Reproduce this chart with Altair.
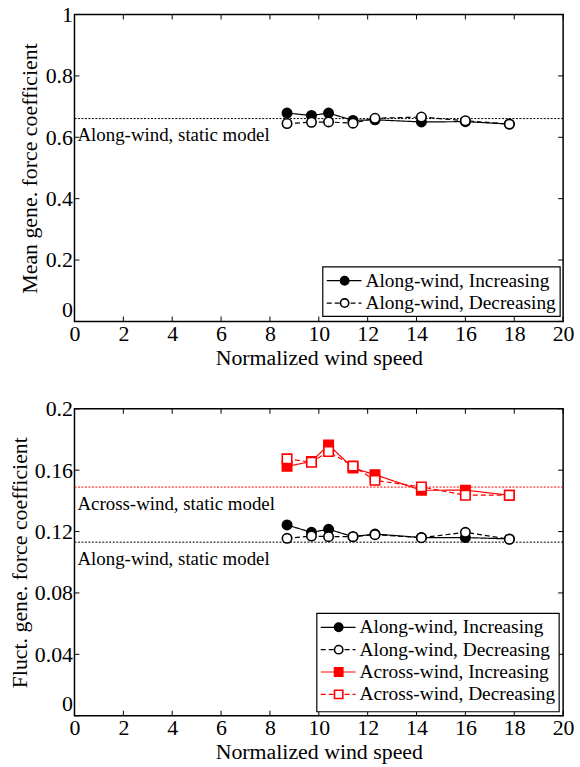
import altair as alt
import pandas as pd

# ---------------- data ----------------
speed = [8.7, 9.7, 10.4, 11.4, 12.3, 14.2, 16.0, 17.8]

mean_along_inc = [0.679, 0.671, 0.679, 0.655, 0.657, 0.650, 0.651, 0.643]
mean_along_dec = [0.645, 0.649, 0.650, 0.646, 0.662, 0.666, 0.654, 0.643]
mean_static_along = 0.661

fl_along_inc = [0.1243, 0.1195, 0.1215, 0.1167, 0.1184, 0.1161, 0.1161, 0.1152]
fl_along_dec = [0.1156, 0.1171, 0.1167, 0.1167, 0.1180, 0.1160, 0.1195, 0.1150]
fl_across_inc = [0.1625, 0.1657, 0.1765, 0.1614, 0.1571, 0.1469, 0.1470, 0.1437]
fl_across_dec = [0.1674, 0.1652, 0.1722, 0.1627, 0.1534, 0.1491, 0.1437, 0.1437]
fl_static_along = 0.1131
fl_static_across = 0.149

series_names = ["Along-wind, Increasing", "Along-wind, Decreasing",
                "Across-wind, Increasing", "Across-wind, Decreasing"]
series_color = ["#000000", "#000000", "#ff0000", "#ff0000"]
series_fill = ["#000000", "#ffffff", "#ff0000", "#ffffff"]
series_shape = ["circle", "circle", "square", "square"]
series_dash = ["solid", "dashed", "solid", "dashed"]

x_ticks = [0, 2, 4, 6, 8, 10, 12, 14, 16, 18, 20]
top_y_ticks = [0, 0.2, 0.4, 0.6, 0.8, 1]
bot_y_ticks = [0, 0.04, 0.08, 0.12, 0.16, 0.2]

FONT = "'Liberation Serif', 'Times New Roman', 'DejaVu Serif', serif"
W, H = 492, 309


def long_frame(values_by_series):
    rows = []
    for i, vals in enumerate(values_by_series):
        if vals is None:
            continue
        for xv, yv in zip(speed, vals):
            rows.append({"x": xv, "y": yv, "series": series_names[i],
                         "color": series_color[i], "fill": series_fill[i],
                         "shape": series_shape[i], "dash": series_dash[i]})
    return pd.DataFrame(rows)


def panel(values_by_series, ydom, yticks, ytitle, title_x, statics, legend_box):
    df = long_frame(values_by_series)
    xs = alt.Scale(domain=[0, 20], nice=False, zero=False)
    ys = alt.Scale(domain=ydom, nice=False, zero=False)
    dash_scale = alt.Scale(domain=["solid", "dashed"], range=[[1, 0], [5, 3]])

    base = alt.Chart(df)
    lines = base.mark_line(strokeWidth=1.2).encode(
        x=alt.X("x:Q", scale=xs,
                axis=alt.Axis(values=x_ticks, title="Normalized wind speed", format="~g",
                              labelPadding=2, titlePadding=3)),
        y=alt.Y("y:Q", scale=ys,
                axis=alt.Axis(values=yticks, title=ytitle, format="~g", titleX=title_x,
                              labelPadding=2,
                              labelBaseline={"condition": {"test": "datum.value == 0",
                                                           "value": "bottom"},
                                             "value": "middle"})),
        color=alt.Color("color:N", scale=None),
        strokeDash=alt.StrokeDash("dash:N", scale=dash_scale, legend=None),
        detail="series:N",
    )
    points = base.mark_point(size=90, strokeWidth=1.6, opacity=1, filled=False).encode(
        x=alt.X("x:Q", scale=xs),
        y=alt.Y("y:Q", scale=ys),
        stroke=alt.Stroke("color:N", scale=None),
        fill=alt.Fill("fill:N", scale=None),
        shape=alt.Shape("shape:N", scale=None),
    )

    sdf = pd.DataFrame(statics)
    static_rules = alt.Chart(sdf).mark_rule(strokeDash=[2, 1.5], strokeWidth=1).encode(
        y=alt.Y("y:Q", scale=ys),
        color=alt.Color("color:N", scale=None),
    )
    static_text = alt.Chart(sdf).mark_text(align="left", baseline="top", font=FONT,
                                           fontSize=19, dx=3, dy=8, color="black").encode(
        x=alt.value(0),
        y=alt.Y("y:Q", scale=ys),
        text="label:N",
    )

    # inward ticks on all four sides
    xt = pd.DataFrame({"t": x_ticks})
    yt = pd.DataFrame({"t": yticks})
    tick_style = dict(color="black", strokeWidth=1)
    tb = alt.Chart(xt).mark_rule(**tick_style).encode(
        x=alt.X("t:Q", scale=xs), y=alt.value(H), y2=alt.value(H - 5))
    tt = alt.Chart(xt).mark_rule(**tick_style).encode(
        x=alt.X("t:Q", scale=xs), y=alt.value(0), y2=alt.value(5))
    tl = alt.Chart(yt).mark_rule(**tick_style).encode(
        y=alt.Y("t:Q", scale=ys), x=alt.value(0), x2=alt.value(5))
    tr = alt.Chart(yt).mark_rule(**tick_style).encode(
        y=alt.Y("t:Q", scale=ys), x=alt.value(W - 5), x2=alt.value(W))

    # legend
    lx0, ly0, lx1, ly1, n = legend_box
    ldf = pd.DataFrame({
        "label": series_names[:n], "row": list(range(n)),
        "color": series_color[:n], "fill": series_fill[:n],
        "shape": series_shape[:n], "dash": series_dash[:n],
    })
    lbase = alt.Chart(ldf).transform_calculate(yy=f"{ly0} + 14 + datum.row * 22.5")
    box = alt.Chart(pd.DataFrame({"a": [0]})).mark_rect(
        fill="white", stroke="black", strokeWidth=1.2).encode(
        x=alt.value(lx0), x2=alt.value(lx1), y=alt.value(ly0), y2=alt.value(ly1))
    lline = lbase.mark_rule(strokeWidth=1.2).encode(
        x=alt.value(lx0 + 4), x2=alt.value(lx0 + 39),
        y=alt.Y("yy:Q", scale=None),
        color=alt.Color("color:N", scale=None),
        strokeDash=alt.StrokeDash("dash:N", scale=dash_scale, legend=None),
    )
    lpt = lbase.mark_point(size=70, strokeWidth=1.6, opacity=1).encode(
        x=alt.value(lx0 + 22),
        y=alt.Y("yy:Q", scale=None),
        stroke=alt.Stroke("color:N", scale=None),
        fill=alt.Fill("fill:N", scale=None),
        shape=alt.Shape("shape:N", scale=None),
    )
    ltext = lbase.mark_text(align="left", baseline="middle", font=FONT,
                            fontSize=19.5, color="black").encode(
        x=alt.value(lx0 + 43),
        y=alt.Y("yy:Q", scale=None),
        text="label:N",
    )

    return alt.layer(static_rules, static_text, lines, points, tb, tt, tl, tr,
                     box, lline, lpt, ltext).properties(width=W, height=H)


top = panel(
    [mean_along_inc, mean_along_dec, None, None],
    [0, 1], top_y_ticks, "Mean gene. force coefficient", -33,
    [{"y": mean_static_along, "color": "#000000", "label": "Along-wind, static model"}],
    (250, 254, 489, 304, 2),
)
bottom = panel(
    [fl_along_inc, fl_along_dec, fl_across_inc, fl_across_dec],
    [0, 0.2], bot_y_ticks, "Fluct. gene. force coefficient", -43,
    [{"y": fl_static_along, "color": "#000000", "label": "Along-wind, static model"},
     {"y": fl_static_across, "color": "#ff0000", "label": "Across-wind, static model"}],
    (244, 206, 488, 305, 4),
)

chart = alt.vconcat(top, bottom, spacing=28).properties(
    padding={"left": 8, "top": 0, "right": 5, "bottom": 0}
).configure_view(
    stroke="black", strokeWidth=1.5
).configure_axis(
    labelFont=FONT, titleFont=FONT, labelFontSize=22, titleFontSize=22,
    labelColor="black", titleColor="black", titleFontWeight="normal",
    domain=False, ticks=False, grid=False, labelFlush=False,
    labelOverlap=False,
)

chart.save("out.html", embed_options={"renderer": "svg", "actions": False})
